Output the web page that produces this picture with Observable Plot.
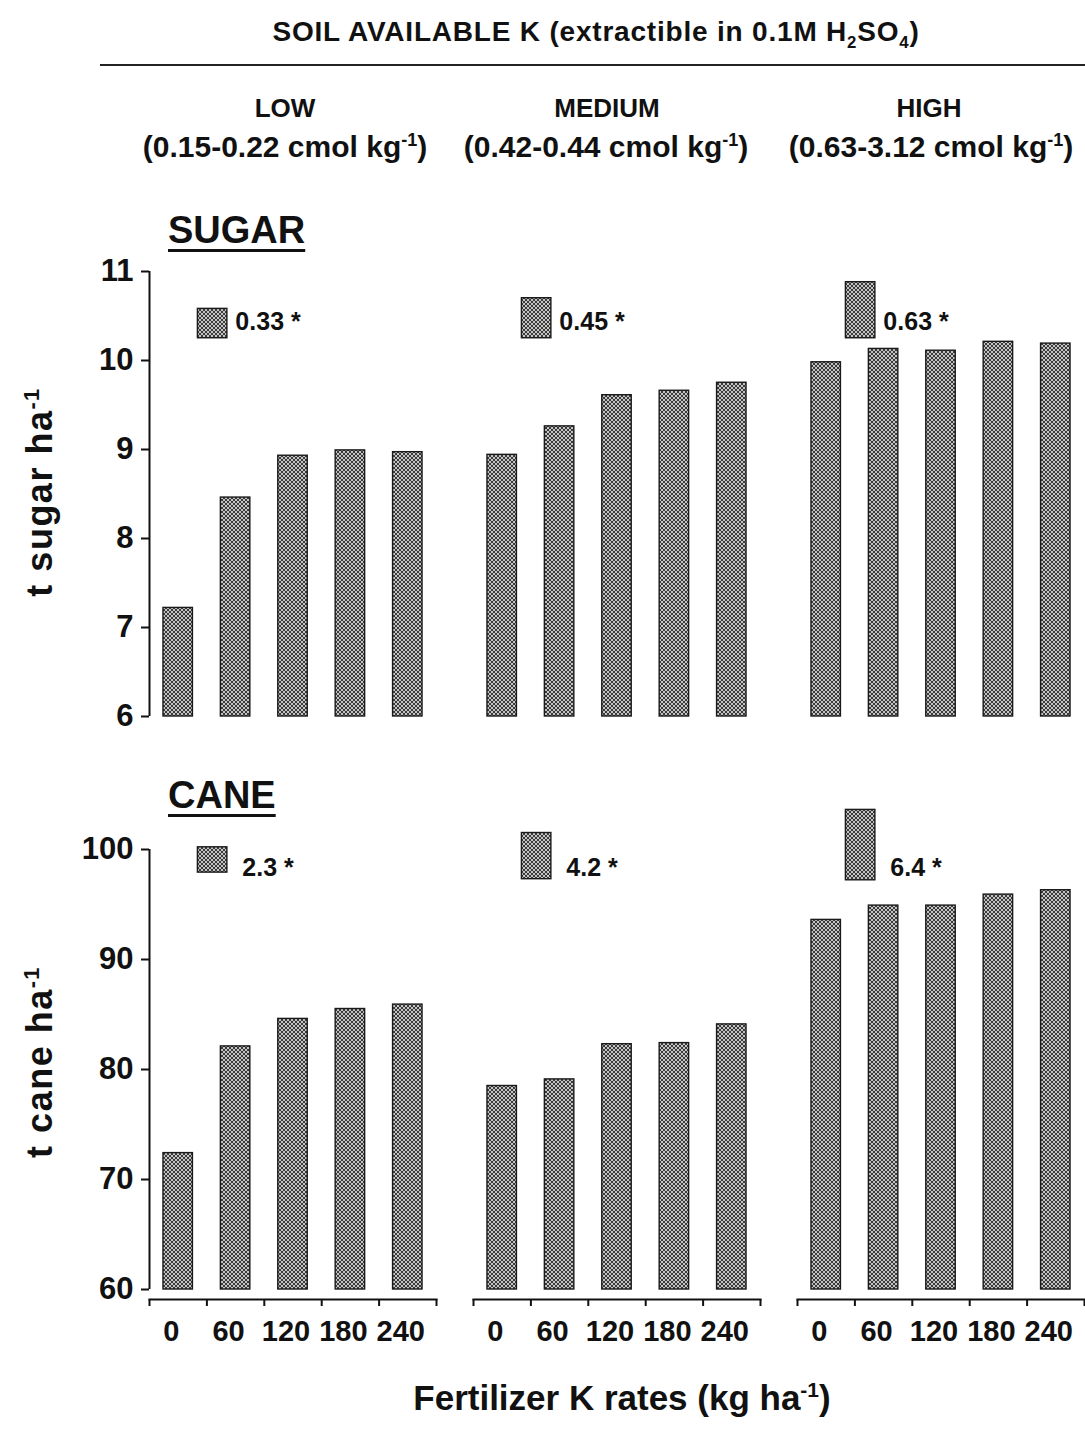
<!DOCTYPE html>
<html>
<head>
<meta charset="utf-8">
<script src="https://cdn.jsdelivr.net/npm/d3@7"></script>
<script src="https://cdn.jsdelivr.net/npm/@observablehq/plot@0.6"></script>
<style>
  body { margin: 0; background: #fff; }
  #page { position: relative; width: 1085px; height: 1436px; overflow: hidden;
          font-family: "Liberation Sans", Arial, Helvetica, sans-serif; font-weight: bold; color: #111; }
  .lbl { position: absolute; white-space: nowrap; line-height: 1; }
  .c { transform: translateX(-50%); }
  .rot { transform: translate(-50%, -50%) rotate(-90deg); letter-spacing: 1.5px; }
  sup, sub { font-size: 60%; line-height: 0; }
  .ul { text-decoration: underline; text-decoration-thickness: 3px; text-underline-offset: 6px; }
  .panel { position: absolute; left: 0; }
  .panel svg { overflow: visible; }
</style>
</head>
<body>
<div id="page">
  <div class="lbl c" style="left:596px; top:18px; font-size:28px; letter-spacing:0.8px;">SOIL AVAILABLE K (extractible in 0.1M H<sub>2</sub>SO<sub>4</sub>)</div>
  <div style="position:absolute; left:100px; right:0; top:64px; height:2px; background:#222;"></div>

  <div class="lbl c" style="left:285px; top:95px; font-size:26px;">LOW</div>
  <div class="lbl c" style="left:607px; top:95px; font-size:26px;">MEDIUM</div>
  <div class="lbl c" style="left:929px; top:95px; font-size:26px;">HIGH</div>
  <div class="lbl c" style="left:285px; top:132px; font-size:30px;">(0.15-0.22 cmol kg<sup>-1</sup>)</div>
  <div class="lbl c" style="left:606px; top:132px; font-size:30px;">(0.42-0.44 cmol kg<sup>-1</sup>)</div>
  <div class="lbl c" style="left:931px; top:132px; font-size:30px;">(0.63-3.12 cmol kg<sup>-1</sup>)</div>

  <div class="lbl ul" style="left:168px; top:211px; font-size:38px;">SUGAR</div>
  <div class="lbl ul" style="left:168px; top:776px; font-size:38px;">CANE</div>

  <div class="lbl rot" style="left:40px; top:492px; font-size:36px;">t sugar ha<sup>-1</sup></div>
  <div class="lbl rot" style="left:40px; top:1062px; font-size:36px;">t cane ha<sup>-1</sup></div>

  <div class="lbl c" style="left:622px; top:1380px; font-size:35px;">Fertilizer K rates (kg ha<sup>-1</sup>)</div>

  <div id="sugar" class="panel" style="top:255px;"></div>
  <div id="cane" class="panel" style="top:795px;"></div>
</div>
<script>
// ---- data ----
const levels = ["LOW", "MEDIUM", "HIGH"];
const rates = [0, 60, 120, 180, 240];
const rateEdges = [-30, 30, 90, 150, 210, 270];

const sugarLow    = [7.22, 8.46, 8.93, 8.99, 8.97];
const sugarMedium = [8.94, 9.26, 9.61, 9.66, 9.75];
const sugarHigh   = [9.98, 10.13, 10.11, 10.21, 10.19];

const caneLow    = [72.4, 82.1, 84.6, 85.5, 85.9];
const caneMedium = [78.5, 79.1, 82.3, 82.4, 84.1];
const caneHigh   = [93.6, 94.9, 94.9, 95.9, 96.3];

const sugarLsdLabels = ["0.33", "0.45", "0.63"];
const caneLsdLabels  = ["2.3", "4.2", "6.4"];
const sugarLsdBase = [10.25, 10.25, 10.25];
const caneLsdBase  = [97.9, 97.3, 97.2];

const sugarTicks = [6, 7, 8, 9, 10, 11];
const caneTicks  = [60, 70, 80, 90, 100];

// ---- drawing ----
const HW = 15.4;      // half bar width in x units
const LSD_X = 36;     // LSD bar position within each soil panel
const xDomain = [rateEdges[0], rateEdges[rateEdges.length - 1]];

function panel(opts) {
  const {series, lsdLabels, lsdBase, yTicks, textY, textDx, withXAxis,
         height, marginTop, marginBottom, insetBottom, id} = opts;
  const data = levels.flatMap((lv, i) => rates.map((r, j) => ({level: lv, rate: r, value: series[i][j]})));
  const lsdData = levels.map((lv, i) => ({level: lv, lsd: +lsdLabels[i], base: lsdBase[i], label: lsdLabels[i]}));
  const y0 = yTicks[0], y1 = yTicks[yTicks.length - 1];
  const marks = [
    Plot.rect(data, {fx: "level", x1: d => d.rate - HW, x2: d => d.rate + HW, y1: () => y0, y2: "value",
      fill: `url(#${id})`, stroke: "#1a1a1a", strokeWidth: 1.4}),
    Plot.rect(lsdData, {fx: "level", x1: () => LSD_X - HW, x2: () => LSD_X + HW, y1: "base", y2: d => d.base + d.lsd,
      fill: `url(#${id})`, stroke: "#1a1a1a", strokeWidth: 1.4}),
    Plot.text(lsdData, {fx: "level", x: () => LSD_X + HW, y: () => textY, text: d => d.label + " *",
      textAnchor: "start", dx: textDx, fontSize: 25, fontWeight: "bold", fill: "#111"}),
    Plot.ruleX([levels[0]], {fx: d => d, x: () => xDomain[0], y1: () => y0, y2: () => y1, stroke: "#111", strokeWidth: 2}),
    Plot.axisY({ticks: yTicks, tickSize: 8, tickPadding: 8, fontSize: 31, fontWeight: "bold", label: null, strokeWidth: 2, tickFormat: d => String(d)})
  ];
  if (withXAxis) {
    marks.push(
      Plot.frame({anchor: "bottom", stroke: "#111", strokeWidth: 2}),
      Plot.axisX({ticks: rateEdges, tickSize: 7, tickFormat: () => "", label: null, strokeWidth: 2}),
      Plot.axisX({ticks: rates, tickSize: 0, tickPadding: 21, fontSize: 29, fontWeight: "bold", dx: -7, label: null, tickFormat: d => String(d)})
    );
  }
  const svg = Plot.plot({
    width: 1085,
    height,
    marginLeft: 148,
    marginRight: 1,
    marginTop,
    marginBottom,
    style: {fontFamily: '"Liberation Sans", Arial, Helvetica, sans-serif', fontWeight: "bold", color: "#111", background: "transparent", overflow: "visible"},
    fx: {domain: levels, paddingInner: 0.1156, paddingOuter: 0, axis: null, label: null},
    x: withXAxis ? {domain: xDomain, label: null} : {domain: xDomain, axis: null, label: null},
    y: {domain: [y0, y1], label: null, insetBottom},
    marks
  });
  d3.select(svg).insert("defs", ":first-child").html(
    `<pattern id="${id}" width="4" height="4" patternUnits="userSpaceOnUse">` +
    `<rect width="4" height="4" fill="#c4c4c4"/>` +
    `<rect width="2" height="2" fill="#3a3a3a"/>` +
    `<rect x="2" y="2" width="2" height="2" fill="#3a3a3a"/></pattern>`);
  return svg;
}

document.getElementById("sugar").appendChild(panel({
  series: [sugarLow, sugarMedium, sugarHigh],
  lsdLabels: sugarLsdLabels, lsdBase: sugarLsdBase,
  yTicks: sugarTicks, textY: 10.43, textDx: 8, withXAxis: false,
  height: 485, marginTop: 16, marginBottom: 24, insetBottom: 0, id: "dotsSugar"
}));

document.getElementById("cane").appendChild(panel({
  series: [caneLow, caneMedium, caneHigh],
  lsdLabels: caneLsdLabels, lsdBase: caneLsdBase,
  yTicks: caneTicks, textY: 98.3, textDx: 15, withXAxis: true,
  height: 559, marginTop: 54, marginBottom: 55, insetBottom: 10, id: "dotsCane"
}));
</script>
</body>
</html>
